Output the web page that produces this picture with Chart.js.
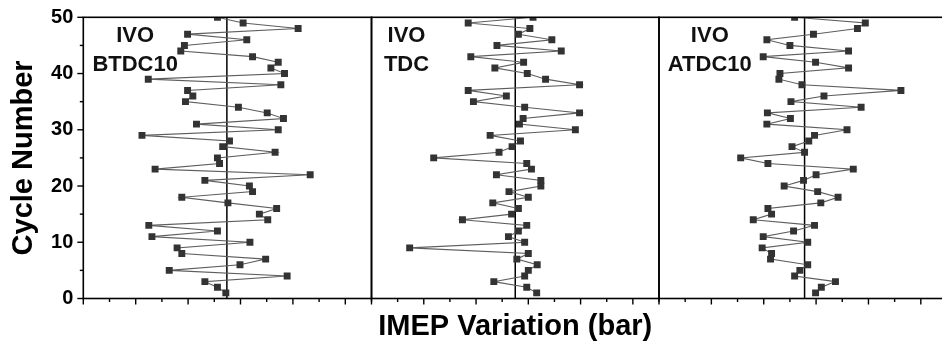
<!DOCTYPE html>
<html><head><meta charset="utf-8">
<script src="https://cdn.jsdelivr.net/npm/chart.js@4.4.1/dist/chart.umd.min.js"></script>
<style>
html,body{margin:0;padding:0;background:#fff;overflow:hidden;width:942px;height:351px;position:relative;}
.panel{position:absolute;top:0;height:351px;}
</style></head><body>
<div class="panel" style="left:0;width:380px"><canvas id="c1"></canvas></div>
<div class="panel" style="left:360px;width:310px"><canvas id="c2"></canvas></div>
<div class="panel" style="left:650px;width:310px"><canvas id="c3"></canvas></div>
<script>
// ---- data ----
const cycles = [1,2,3,4,5,6,7,8,9,10,11,12,13,14,15,16,17,18,19,20,21,22,23,24,25,26,27,28,29,30,31,32,33,34,35,36,37,38,39,40,41,42,43,44,45,46,47,48,49,50];
const btdc10 = [2.72,2.56,2.32,3.89,1.64,2.99,3.48,1.88,1.79,3.18,1.31,2.56,1.25,3.52,3.36,3.69,2.76,1.88,3.23,3.17,2.32,4.33,1.37,2.60,2.56,3.66,2.66,2.79,1.12,3.72,2.16,3.82,3.51,2.96,1.95,2.09,1.99,3.77,1.24,3.84,3.58,3.72,3.23,1.86,1.93,3.12,1.99,4.10,3.05,2.56];
const tdc = [3.16,2.97,2.34,2.93,3.00,3.17,2.78,3.00,0.73,2.93,2.62,2.81,2.97,1.74,2.68,2.81,2.32,3.00,2.63,3.24,3.24,2.39,3.06,2.97,1.19,2.44,2.69,2.85,2.27,3.90,2.83,2.90,3.98,2.93,1.95,2.58,1.85,3.98,3.33,2.98,2.36,2.91,1.90,3.63,2.40,3.45,2.81,3.03,1.85,3.09];
const atdc10 = [2.99,3.10,3.37,2.59,2.69,2.84,2.13,2.15,1.97,2.84,1.99,2.57,2.97,1.80,2.15,2.08,3.09,3.42,3.03,2.39,2.76,3.00,3.71,2.08,1.56,2.78,2.54,2.86,2.97,3.59,2.06,2.51,2.07,3.86,2.52,3.15,4.62,2.73,2.29,2.31,3.62,2.99,1.99,3.62,2.50,2.06,2.95,3.79,3.94,2.59];
const meanValues = [2.74, 2.75, 2.78];
const panelLabels = [['IVO','BTDC10'],['IVO','TDC'],['IVO','ATDC10']];
const yTickLabels = ['0','10','20','30','40','50'];
const xTitle = 'IMEP Variation (bar)';
const yTitle = 'Cycle Number';

Chart.defaults.font.family = "'Liberation Sans', Arial, Helvetica, sans-serif";
Chart.defaults.color = '#000';

const framePlugin = {
  id: 'frame',
  afterDatasetsDraw(chart, args, opts) {
    const {ctx, chartArea: a, scales} = chart;
    ctx.save();
    ctx.strokeStyle = '#000';
    ctx.lineWidth = 1.6;
    ctx.strokeRect(a.left, a.top, a.right - a.left, a.bottom - a.top);
    const xs = scales.x;
    ctx.lineWidth = 1.4;
    xs.ticks.forEach(t => {
      const px = xs.getPixelForValue(t.value);
      const major = Math.abs(t.value - Math.round(t.value)) < 1e-6;
      ctx.beginPath(); ctx.moveTo(px, a.bottom); ctx.lineTo(px, a.bottom + (major ? 6 : 3.5)); ctx.stroke();
    });
    if (opts.yTicks) {
      const ys = scales.y;
      ys.ticks.forEach(t => {
        const py = ys.getPixelForValue(t.value);
        const major = t.value % 10 === 0;
        ctx.beginPath(); ctx.moveTo(a.left, py); ctx.lineTo(a.left - (major ? 6 : 3.5), py); ctx.stroke();
      });
    }
    if (opts.label) {
      ctx.fillStyle = '#111';
      ctx.font = "bold 22px 'Liberation Sans', Arial, sans-serif";
      ctx.textAlign = 'center';
      ctx.textBaseline = 'alphabetic';
      const cx = xs.getPixelForValue(opts.labelX);
      ctx.fillText(opts.label[0], cx, scales.y.getPixelForValue(45.66));
      ctx.fillText(opts.label[1], cx, scales.y.getPixelForValue(40.5));
    }
    ctx.restore();
  }
};

function makeChart(id, values, mean, label, labelX, pad, showY, showXTitle) {
  const pts = cycles.map((c, i) => ({x: values[i], y: c}));
  return new Chart(document.getElementById(id), {
    type: 'scatter',
    data: {
      datasets: [
        {
          data: [{x: mean, y: 0}, {x: mean, y: 50}],
          showLine: true, borderColor: '#000', borderWidth: 1.5, pointRadius: 0, clip: 0, order: 2
        },
        {
          data: pts, showLine: true, borderColor: '#5e5e5e', borderWidth: 1.1,
          pointStyle: 'rect', pointRadius: 4.9, pointBackgroundColor: '#333', pointBorderColor: '#333',
          pointBorderWidth: 0, clip: 0, order: 1
        }
      ]
    },
    options: {
      responsive: true, maintainAspectRatio: false, animation: false,
      layout: {padding: pad},
      plugins: {
        legend: {display: false}, tooltip: {enabled: false},
        frame: {yTicks: showY, label: label, labelX: labelX}
      },
      scales: {
        x: {
          type: 'linear', min: 0, max: 5.5,
          ticks: {display: false, stepSize: 0.5},
          grid: {display: false, drawTicks: false}, border: {display: false},
          title: {display: showXTitle, text: xTitle, font: {size: 29, weight: 'bold'}, padding: {top: 0, bottom: 6.5}},
          afterFit(s) { s.height = 52.5; }
        },
        y: {
          type: 'linear', min: 0, max: 50, display: showY,
          ticks: {stepSize: 5, autoSkip: false, padding: 0, font: {size: 20, weight: 'bold'},
            callback: (v) => (v % 10 === 0 ? yTickLabels[v / 10] : '')},
          grid: {display: false, drawTicks: true, tickLength: 10}, border: {display: false},
          title: {display: showY, text: yTitle, font: {size: 29, weight: 'bold'}, padding: {top: 6.3, bottom: 0}},
          afterFit(s) { s.width = showY ? 83.3 : 0; }
        }
      }
    },
    plugins: [framePlugin]
  });
}

makeChart('c1', btdc10, meanValues[0], panelLabels[0], 0.99, {left: 0, right: 8.5, top: 17.3, bottom: 0}, true, false);
makeChart('c2', tdc, meanValues[1], panelLabels[1], 0.67, {left: 11.5, right: 11, top: 17.3, bottom: 0}, false, true);
makeChart('c3', atdc10, meanValues[2], panelLabels[2], 0.97, {left: 9, right: 13, top: 17.3, bottom: 0}, false, false);
</script>
</body></html>
